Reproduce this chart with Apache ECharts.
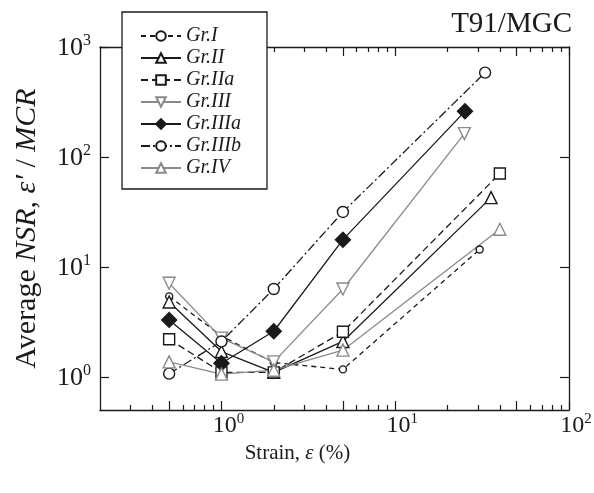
<!DOCTYPE html>
<html>
<head>
<meta charset="utf-8">
<script src="https://cdn.jsdelivr.net/npm/echarts@6/dist/echarts.min.js"></script>
<style>
    html,body{margin:0;padding:0;background:#fff;}
    #nsr{width:594px;height:493px;}
</style>
</head>
<body>
<div id="nsr"></div>
<script>
    // group names, legend order
    const groups=['Gr.I','Gr.II','Gr.IIa','Gr.III','Gr.IIIa','Gr.IIIb','Gr.IV'];
    // strain (%) of each point, per group
    const strainGrI=[0.5,1,2,5,30.6];
    const strainGrII=[0.5,1,2,5,35.6];
    const strainGrIIa=[0.5,1,2,5,40];
    const strainGrIII=[0.5,1,2,5,25];
    const strainGrIIIa=[0.5,1,2,5,25.2];
    const strainGrIIIb=[0.5,1,2,5,32.9];
    const strainGrIV=[0.5,1,2,5,40];
    // average NSR, per group
    const nsrGrI=[5.4,2.35,1.35,1.17,14.4];
    const nsrGrII=[4.8,1.7,1.1,2.1,42.7];
    const nsrGrIIa=[2.2,1.1,1.1,2.57,70.7];
    const nsrGrIII=[7.1,2.25,1.37,6.3,163];
    const nsrGrIIIa=[3.3,1.33,2.6,17.7,260];
    const nsrGrIIIb=[1.07,2.1,6.3,31.6,585];
    const nsrGrIV=[1.37,1.06,1.15,1.75,22];
    // ticks
    const xMajorTicks=[0.5,1,5,10,50,100];
    const xMinorTicks=[0.3,0.4,0.6,0.7,0.8,0.9,2,3,4,6,7,8,9,20,30,40,60,70,80,90];
    const xLabels=[1,10,100];
    const yTicks=[1,10,100,1000];

    const BLACK='#1a1a1a', GRAY='#8a8a8a', FONT='Liberation Serif';

    function pairs(xs,ys){
        return xs.map((x,i)=>[x,ys[i]]);
    }
    function powLabel(v){
        return '{b|10}{s|'+Math.round(Math.log10(v))+'}';
    }
    function powRich(big,small){
        return {
            b:{fontSize:big,fontFamily:FONT,color:BLACK,verticalAlign:'bottom',lineHeight:big+2,padding:[4,0,0,0]},
            s:{fontSize:small,fontFamily:FONT,color:BLACK,verticalAlign:'top',lineHeight:small}
        };
    }

    function line(name,xs,ys,color,dash,symbol,size,filled,rotate){
        return {
            name:name,
            type:'line',
            xAxisIndex:0,
            yAxisIndex:0,
            data:pairs(xs,ys),
            symbol:symbol,
            symbolSize:size,
            symbolRotate:rotate||0,
            showAllSymbol:true,
            lineStyle:{color:color,width:1.3,type:dash},
            itemStyle:{color:filled?color:'#fff',borderColor:color,borderWidth:1.4},
            emphasis:{disabled:true},
            z:3
        };
    }

    const tickStyle={color:BLACK,width:1.2};
    const xBase={type:'log',min:0.2,max:100,gridIndex:0,splitLine:{show:false},minorTick:{show:false}};
    const yBase={type:'log',min:0.5,max:1000,gridIndex:0,splitLine:{show:false},minorTick:{show:false}};

    const chart=echarts.init(document.getElementById('nsr'));
    chart.setOption({
        animation:false,
        backgroundColor:'#fff',
        title:{
            text:'T91/MGC',
            right:22,
            top:10,
            padding:0,
            textStyle:{fontFamily:FONT,fontSize:29,fontWeight:'normal',color:BLACK}
        },
        legend:{
            data:groups,
            orient:'vertical',
            left:122,
            top:12,
            itemWidth:40,
            itemHeight:12,
            itemGap:2,
            padding:[14,26,11,18],
            backgroundColor:'#fff',
            borderColor:BLACK,
            borderWidth:1.3,
            borderRadius:0,
            textStyle:{fontFamily:FONT,fontStyle:'italic',fontSize:20,color:BLACK},
            z:10
        },
        grid:{left:100,right:25,top:47,bottom:83,containLabel:false,outerBoundsMode:'none'},
        xAxis:[
            Object.assign({},xBase,{
                position:'bottom',
                name:'Strain, {i|ε} (%)',
                nameLocation:'middle',
                nameGap:32,
                nameTextStyle:{fontFamily:FONT,fontSize:21,color:BLACK,padding:[0,74,0,0],
                    rich:{i:{fontFamily:FONT,fontSize:21,fontStyle:'italic',color:BLACK}}},
                axisLine:{show:true,lineStyle:{color:BLACK,width:1.3}},
                axisTick:{show:true,inside:true,length:9,lineStyle:tickStyle,customValues:xMajorTicks},
                axisLabel:{margin:2,customValues:xLabels,formatter:powLabel,rich:powRich(24,15),padding:[0,0,0,14]}
            }),
            Object.assign({},xBase,{
                position:'bottom',
                axisLine:{show:false},
                axisTick:{show:true,inside:true,length:5,lineStyle:tickStyle,customValues:xMinorTicks},
                axisLabel:{show:false}
            }),
            Object.assign({},xBase,{
                position:'top',
                axisLine:{show:true,lineStyle:{color:BLACK,width:1.3}},
                axisTick:{show:true,inside:true,length:9,lineStyle:tickStyle,customValues:xMajorTicks},
                axisLabel:{show:false}
            }),
            Object.assign({},xBase,{
                position:'top',
                axisLine:{show:false},
                axisTick:{show:true,inside:true,length:5,lineStyle:tickStyle,customValues:xMinorTicks},
                axisLabel:{show:false}
            })
        ],
        yAxis:[
            Object.assign({},yBase,{
                position:'left',
                name:'Average {i|NSR}, {i|ε′} / {i|MCR}',
                nameLocation:'middle',
                nameGap:58,
                nameRotate:90,
                nameTextStyle:{fontFamily:FONT,fontSize:30,color:BLACK,
                    rich:{i:{fontFamily:FONT,fontSize:30,fontStyle:'italic',color:BLACK}}},
                axisLine:{show:true,lineStyle:{color:BLACK,width:1.3}},
                axisTick:{show:true,inside:true,length:9,lineStyle:tickStyle,customValues:yTicks},
                axisLabel:{margin:9,customValues:yTicks,formatter:powLabel,rich:powRich(26,16)}
            }),
            Object.assign({},yBase,{
                position:'right',
                axisLine:{show:true,lineStyle:{color:BLACK,width:1.3}},
                axisTick:{show:true,inside:true,length:9,lineStyle:tickStyle,customValues:yTicks},
                axisLabel:{show:false}
            })
        ],
        series:[
            line('Gr.I',strainGrI,nsrGrI,BLACK,[5,4],'circle',7,false),
            line('Gr.II',strainGrII,nsrGrII,BLACK,'solid','triangle',12,false),
            line('Gr.IIa',strainGrIIa,nsrGrIIa,BLACK,[7,4],'rect',11,false),
            line('Gr.III',strainGrIII,nsrGrIII,GRAY,'solid','triangle',12,false,180),
            line('Gr.IIIa',strainGrIIIa,nsrGrIIIa,BLACK,'solid','diamond',15,true),
            line('Gr.IIIb',strainGrIIIb,nsrGrIIIb,BLACK,[9,3,2,3],'circle',11,false),
            line('Gr.IV',strainGrIV,nsrGrIV,GRAY,'solid','triangle',12,false)
        ]
    });
</script>
</body>
</html>
